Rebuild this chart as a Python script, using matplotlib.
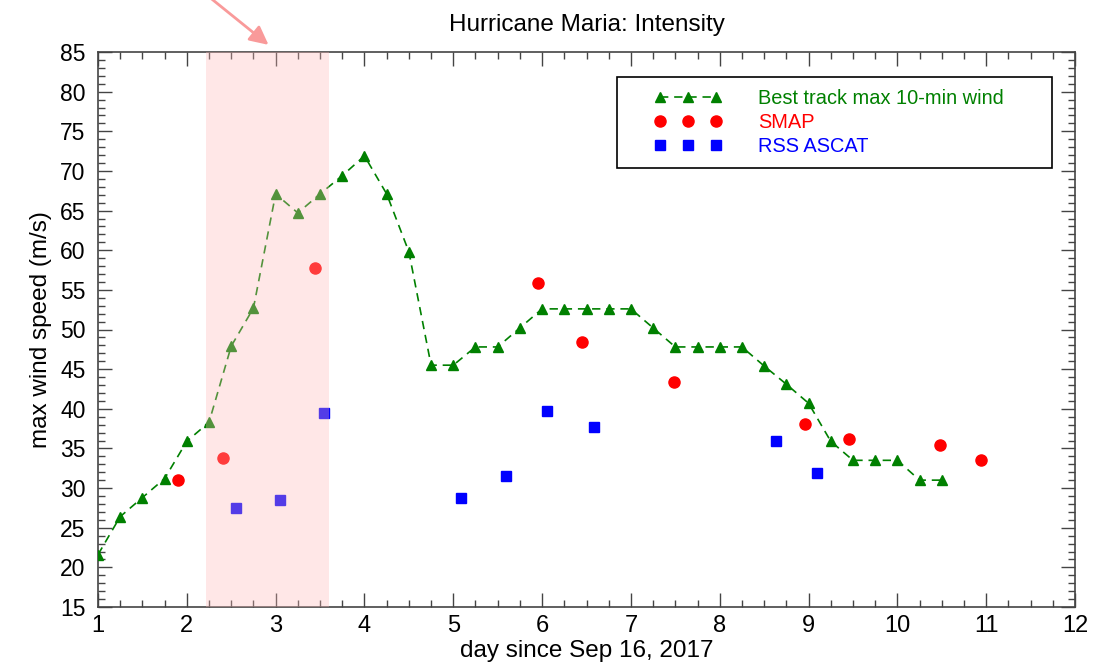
import matplotlib
matplotlib.use("Agg")
import matplotlib.pyplot as plt
from matplotlib.ticker import MultipleLocator
from matplotlib.patches import Rectangle
from matplotlib.legend_handler import HandlerLine2D

plt.rcParams['font.family'] = ['Liberation Sans', 'DejaVu Sans']

# Best track (every 6 hours from day 1)
bt_day = [1.0, 1.25, 1.5, 1.75, 2.0, 2.25, 2.5, 2.75, 3.0, 3.25, 3.5, 3.75, 4.0,
          4.25, 4.5, 4.75, 5.0, 5.25, 5.5, 5.75, 6.0, 6.25, 6.5, 6.75, 7.0,
          7.25, 7.5, 7.75, 8.0, 8.25, 8.5, 8.75, 9.0, 9.25, 9.5, 9.75, 10.0,
          10.25, 10.5]
bt_wind = [21.6, 26.4, 28.8, 31.2, 35.9, 38.3, 47.9, 52.7, 67.1, 64.7, 67.1, 69.4, 71.9,
           67.1, 59.8, 45.5, 45.5, 47.8, 47.8, 50.2, 52.6, 52.6, 52.6, 52.6, 52.6,
           50.2, 47.8, 47.8, 47.8, 47.8, 45.4, 43.1, 40.7, 35.9, 33.5, 33.5, 33.5,
           31.0, 31.0]

smap_day = [1.90, 2.41, 3.44, 5.95, 6.45, 7.48, 8.96, 9.46, 10.48, 10.94]
smap_wind = [31.0, 33.8, 57.8, 55.9, 48.4, 43.4, 38.1, 36.2, 35.4, 33.6]

ascat_day = [2.55, 3.05, 3.55, 5.09, 5.59, 6.05, 6.59, 8.63, 9.09]
ascat_wind = [27.5, 28.5, 39.5, 28.7, 31.5, 39.7, 37.7, 35.9, 31.9]

shade_range = [2.22, 3.60]

W, H = 1112, 663
fig = plt.figure(figsize=(W / 100, H / 100), dpi=100)
ax = fig.add_axes([98 / W, 1 - 607 / H, 977 / W, 555 / H])

l1, = ax.plot(bt_day, bt_wind, color='#008000', linestyle=(0, (5, 3.5)), lw=1.2,
              marker='^', markersize=7.5, label='Best track max 10-min wind', zorder=3)
l2, = ax.plot(smap_day, smap_wind, linestyle='none', color='#ff0000', marker='o',
              markersize=8, label='SMAP', zorder=3)
l3, = ax.plot(ascat_day, ascat_wind, linestyle='none', color='#0000ff', marker='s',
              markersize=7.5, label='RSS ASCAT', zorder=3)

ax.set_xlim(1, 12)
ax.set_ylim(15, 85)

rect = Rectangle((shade_range[0], 15), shade_range[1] - shade_range[0], 70,
                 facecolor='#ffb9b9', alpha=0.33, edgecolor='none', zorder=10)
ax.add_patch(rect)

ax.xaxis.set_major_locator(MultipleLocator(1))
ax.xaxis.set_minor_locator(MultipleLocator(0.25))
ax.yaxis.set_major_locator(MultipleLocator(5))
ax.yaxis.set_minor_locator(MultipleLocator(1))
ax.tick_params(which='both', direction='in', top=True, right=True, color='#444444',
               width=1.0)
ax.tick_params(which='major', length=10)
ax.tick_params(which='minor', length=5)
ax.tick_params(axis='x', which='major', pad=6, labelsize=17)
ax.tick_params(axis='y', which='major', pad=9, labelsize=16.5)
for s in ax.spines.values():
    s.set_color('#444444')
    s.set_linewidth(1.2)

ax.set_title('Hurricane Maria: Intensity', fontsize=17.5, pad=15)
ax.set_xlabel('day since Sep 16, 2017', fontsize=17.5, labelpad=2)
ax.set_ylabel('max wind speed (m/s)', fontsize=17.5, labelpad=6)

hm = {h: HandlerLine2D(marker_pad=1.55, numpoints=3) for h in (l1, l2, l3)}
leg = ax.legend(handles=[l1, l2, l3], handler_map=hm,
                loc='upper left', bbox_to_anchor=(0.531, 0.798, 0.445, 0.157),
                mode='expand', numpoints=3, handlelength=5.9, fontsize=14.4,
                frameon=True, fancybox=False, framealpha=1, edgecolor='black',
                borderpad=0.6, labelspacing=0.24, handletextpad=0.55,
                borderaxespad=0)
leg.get_frame().set_linewidth(1.2)
leg.set_zorder(20)
for txt, c in zip(leg.get_texts(), ['#008000', '#ff0000', '#0000ff']):
    txt.set_color(c)

ax.annotate('', xy=(2.92, 85.9), xytext=(2.19, 92.5), xycoords='data',
            textcoords='data', annotation_clip=False,
            arrowprops=dict(arrowstyle='-|>', color='#f99a9a', lw=2,
                            mutation_scale=28, shrinkA=0, shrinkB=0))

fig.savefig('out.png', dpi=100)
